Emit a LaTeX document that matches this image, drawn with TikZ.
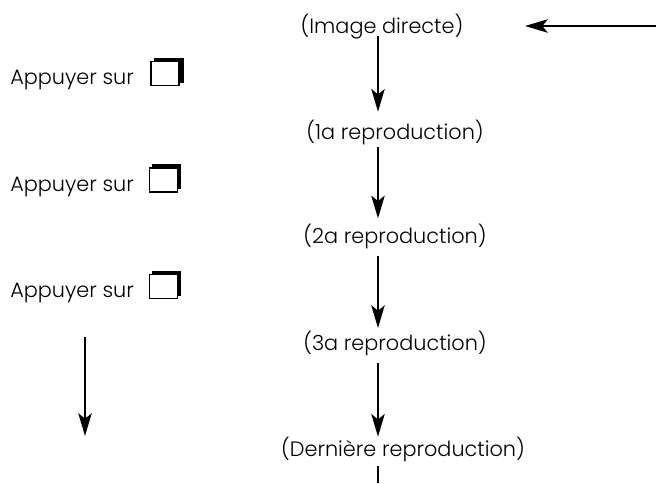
\documentclass[tikz,border=0pt]{standalone}
\usepackage{fontspec}
\setmainfont{Poppins Light}
\usetikzlibrary{arrows.meta,shadows}
\tikzset{
  label text/.style={font=\fontsize{15.6}{17}\selectfont, inner sep=0pt, text height=12.5pt, text depth=1.5pt},
  flow/.style={-{Stealth[length=17pt,width=10pt,inset=4pt]}, line width=1.8pt},
  button/.style={draw=black, fill=white, line width=0.9pt, minimum width=21pt, minimum height=18pt, inner sep=0pt,
    copy shadow={draw=black, fill=black, shadow xshift=#1, shadow yshift=2.4pt}},
  button/.default=2.4pt
}
\begin{document}
\begin{tikzpicture}[x=0.75pt, y=-0.75pt]
  \useasboundingbox (0, 0) rectangle (656, 483);

  % steps
  \node [label text] (direct) at (382, 26) {(Image directe)};
  \node [label text] (repone) at (395, 132) {(1a reproduction)};
  \node [label text] (reptwo) at (395, 236) {(2a reproduction)};
  \node [label text] (repthree) at (395, 343) {(3a reproduction)};
  \node [label text] (replast) at (403, 449) {(Dernière reproduction)};

  % left column
  \node [label text, anchor=west] (pressone) at (10, 77) {Appuyer sur};
  \node [label text, anchor=west] (presstwo) at (10, 184) {Appuyer sur};
  \node [label text, anchor=west] (pressthree) at (10, 290) {Appuyer sur};
  \node [button=3pt] (btnone) at (165, 73.5) {};
  \node [button] (btntwo) at (163.5, 180) {};
  \node [button] (btnthree) at (163.5, 286.5) {};

  % free ends
  \coordinate (topstart) at (656, 26);
  \coordinate (topend) at (525, 26);
  \coordinate (sidestart) at (85, 337);
  \coordinate (sideend) at (85, 436);
  \coordinate (tailstart) at (378, 466);
  \coordinate (tailend) at (378, 483);

  % arrows
  \draw [flow] (topstart) -- (topend);
  \draw [flow] (sidestart) -- (sideend);
  \draw [flow, shorten >=8pt] (direct.south -| tailstart) -- (repone.north -| tailstart);
  \draw [flow, shorten <=4pt, shorten >=6pt] (repone.south -| tailstart) -- (reptwo.north -| tailstart);
  \draw [flow, shorten <=8pt, shorten >=4pt] (reptwo.south -| tailstart) -- (repthree.north -| tailstart);
  \draw [flow, shorten <=8pt, shorten >=2pt] (repthree.south -| tailstart) -- (replast.north -| tailstart);
  \draw [line width=1.8pt] (tailstart) -- (tailend);
\end{tikzpicture}
\end{document}
